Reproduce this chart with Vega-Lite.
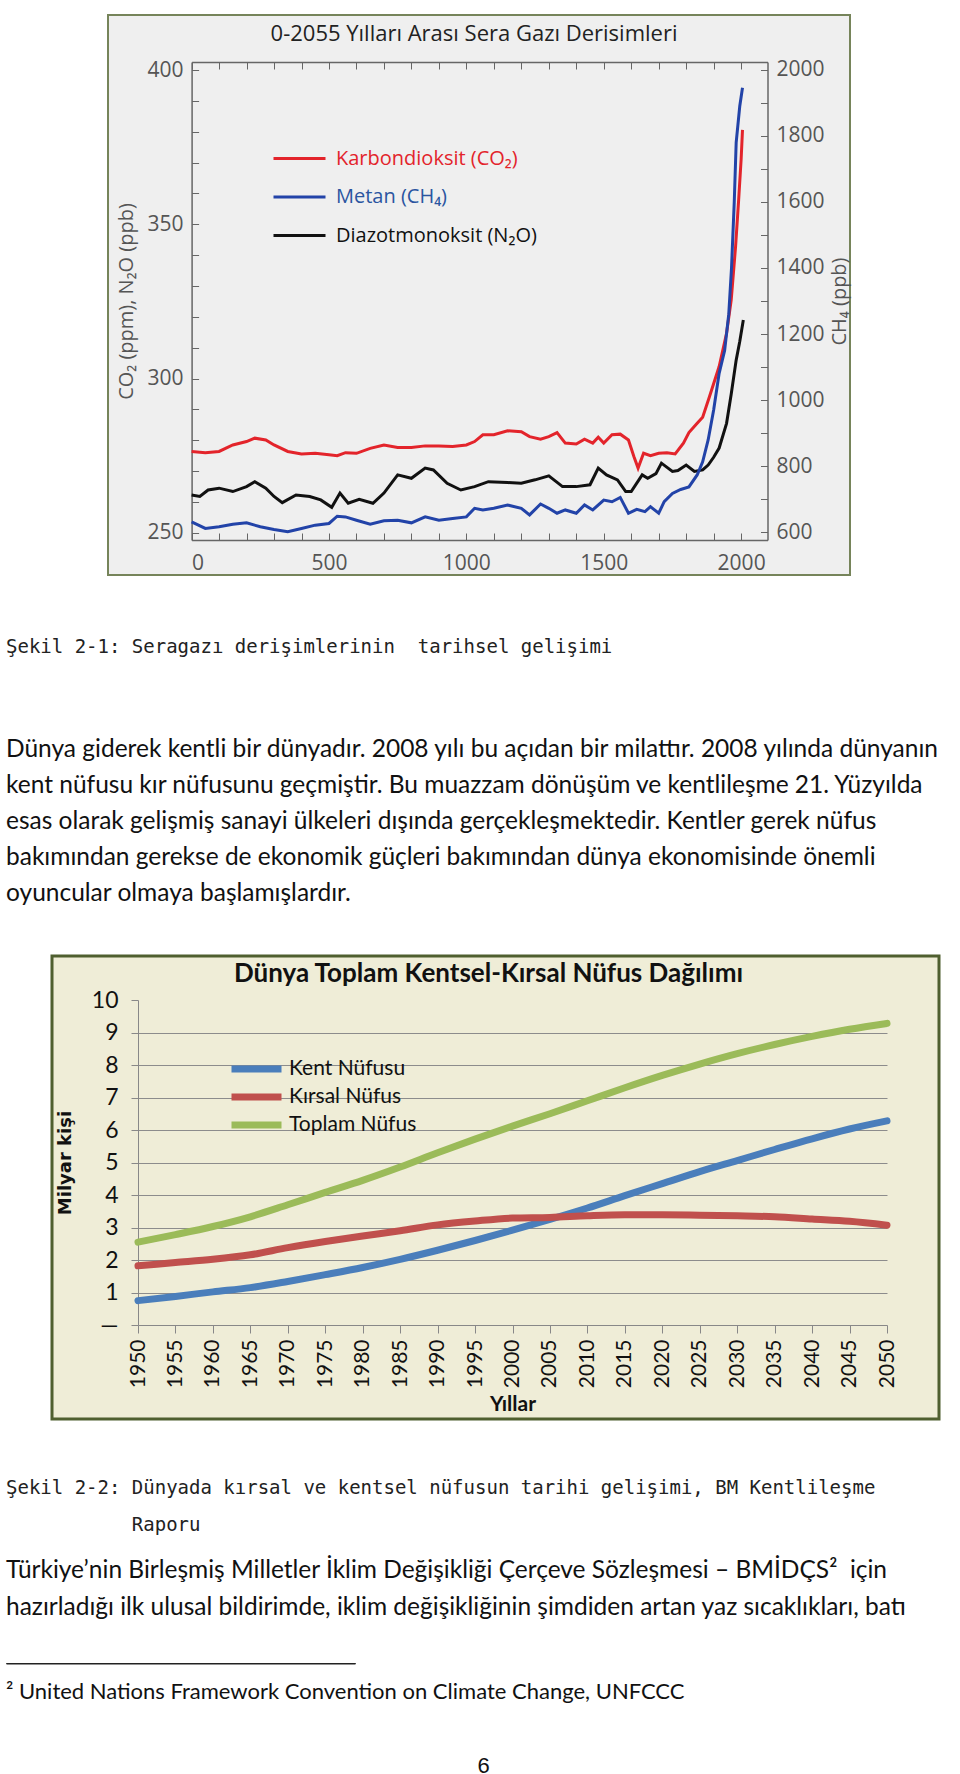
{
  "$schema": "https://vega.github.io/schema/vega-lite/v6.json",
  "background": "white",
  "padding": {"left": 5, "top": 14, "right": 0, "bottom": 0},
  "spacing": 0,
  "resolve": {"scale": {"color": "independent"}, "legend": {"color": "independent"}},
  "config": {"view": {"stroke": null}, "concat": {"spacing": 0}},
  "datasets": {
    "gas": [
      {"year": 0, "gas": "Karbondioksit (CO₂)", "value": 276.4}, {"year": 50, "gas": "Karbondioksit (CO₂)", "value": 276.0}, {"year": 100, "gas": "Karbondioksit (CO₂)", "value": 276.4}, {"year": 150, "gas": "Karbondioksit (CO₂)", "value": 278.5}, {"year": 200, "gas": "Karbondioksit (CO₂)", "value": 279.6}, {"year": 230, "gas": "Karbondioksit (CO₂)", "value": 280.7}, {"year": 270, "gas": "Karbondioksit (CO₂)", "value": 280.1}, {"year": 300, "gas": "Karbondioksit (CO₂)", "value": 278.5}, {"year": 350, "gas": "Karbondioksit (CO₂)", "value": 276.4}, {"year": 400, "gas": "Karbondioksit (CO₂)", "value": 275.6}, {"year": 450, "gas": "Karbondioksit (CO₂)", "value": 275.8}, {"year": 500, "gas": "Karbondioksit (CO₂)", "value": 275.3}, {"year": 530, "gas": "Karbondioksit (CO₂)", "value": 275.0}, {"year": 560, "gas": "Karbondioksit (CO₂)", "value": 276.0}, {"year": 600, "gas": "Karbondioksit (CO₂)", "value": 275.8}, {"year": 650, "gas": "Karbondioksit (CO₂)", "value": 277.4}, {"year": 700, "gas": "Karbondioksit (CO₂)", "value": 278.5}, {"year": 750, "gas": "Karbondioksit (CO₂)", "value": 277.7}, {"year": 800, "gas": "Karbondioksit (CO₂)", "value": 277.7}, {"year": 850, "gas": "Karbondioksit (CO₂)", "value": 278.2}, {"year": 900, "gas": "Karbondioksit (CO₂)", "value": 278.2}, {"year": 950, "gas": "Karbondioksit (CO₂)", "value": 278.0}, {"year": 1000, "gas": "Karbondioksit (CO₂)", "value": 278.5}, {"year": 1030, "gas": "Karbondioksit (CO₂)", "value": 279.6}, {"year": 1060, "gas": "Karbondioksit (CO₂)", "value": 281.8}, {"year": 1100, "gas": "Karbondioksit (CO₂)", "value": 281.8}, {"year": 1150, "gas": "Karbondioksit (CO₂)", "value": 283.1}, {"year": 1200, "gas": "Karbondioksit (CO₂)", "value": 282.8}, {"year": 1230, "gas": "Karbondioksit (CO₂)", "value": 281.2}, {"year": 1270, "gas": "Karbondioksit (CO₂)", "value": 280.4}, {"year": 1300, "gas": "Karbondioksit (CO₂)", "value": 281.2}, {"year": 1330, "gas": "Karbondioksit (CO₂)", "value": 282.5}, {"year": 1360, "gas": "Karbondioksit (CO₂)", "value": 279.1}, {"year": 1400, "gas": "Karbondioksit (CO₂)", "value": 278.8}, {"year": 1430, "gas": "Karbondioksit (CO₂)", "value": 280.4}, {"year": 1460, "gas": "Karbondioksit (CO₂)", "value": 279.1}, {"year": 1480, "gas": "Karbondioksit (CO₂)", "value": 281.0}, {"year": 1500, "gas": "Karbondioksit (CO₂)", "value": 279.1}, {"year": 1530, "gas": "Karbondioksit (CO₂)", "value": 281.8}, {"year": 1560, "gas": "Karbondioksit (CO₂)", "value": 282.0}, {"year": 1590, "gas": "Karbondioksit (CO₂)", "value": 280.1}, {"year": 1610, "gas": "Karbondioksit (CO₂)", "value": 274.7}, {"year": 1625, "gas": "Karbondioksit (CO₂)", "value": 271.0}, {"year": 1645, "gas": "Karbondioksit (CO₂)", "value": 275.8}, {"year": 1670, "gas": "Karbondioksit (CO₂)", "value": 275.0}, {"year": 1700, "gas": "Karbondioksit (CO₂)", "value": 275.8}, {"year": 1730, "gas": "Karbondioksit (CO₂)", "value": 276.0}, {"year": 1760, "gas": "Karbondioksit (CO₂)", "value": 275.6}, {"year": 1790, "gas": "Karbondioksit (CO₂)", "value": 279.1}, {"year": 1810, "gas": "Karbondioksit (CO₂)", "value": 282.5}, {"year": 1840, "gas": "Karbondioksit (CO₂)", "value": 285.5}, {"year": 1860, "gas": "Karbondioksit (CO₂)", "value": 287.5}, {"year": 1885, "gas": "Karbondioksit (CO₂)", "value": 294.2}, {"year": 1920, "gas": "Karbondioksit (CO₂)", "value": 303.9}, {"year": 1947, "gas": "Karbondioksit (CO₂)", "value": 314.7}, {"year": 1964, "gas": "Karbondioksit (CO₂)", "value": 325.5}, {"year": 1980, "gas": "Karbondioksit (CO₂)", "value": 343.0}, {"year": 1991, "gas": "Karbondioksit (CO₂)", "value": 357.9}, {"year": 2000, "gas": "Karbondioksit (CO₂)", "value": 371.0}, {"year": 2005, "gas": "Karbondioksit (CO₂)", "value": 380.6},
      {"year": 0, "gas": "Diazotmonoksit (N₂O)", "value": 262.3}, {"year": 30, "gas": "Diazotmonoksit (N₂O)", "value": 261.8}, {"year": 60, "gas": "Diazotmonoksit (N₂O)", "value": 263.9}, {"year": 100, "gas": "Diazotmonoksit (N₂O)", "value": 264.5}, {"year": 150, "gas": "Diazotmonoksit (N₂O)", "value": 263.4}, {"year": 200, "gas": "Diazotmonoksit (N₂O)", "value": 265.0}, {"year": 230, "gas": "Diazotmonoksit (N₂O)", "value": 266.6}, {"year": 270, "gas": "Diazotmonoksit (N₂O)", "value": 264.5}, {"year": 300, "gas": "Diazotmonoksit (N₂O)", "value": 261.8}, {"year": 330, "gas": "Diazotmonoksit (N₂O)", "value": 259.8}, {"year": 380, "gas": "Diazotmonoksit (N₂O)", "value": 262.3}, {"year": 430, "gas": "Diazotmonoksit (N₂O)", "value": 261.8}, {"year": 470, "gas": "Diazotmonoksit (N₂O)", "value": 260.7}, {"year": 510, "gas": "Diazotmonoksit (N₂O)", "value": 258.3}, {"year": 540, "gas": "Diazotmonoksit (N₂O)", "value": 262.9}, {"year": 570, "gas": "Diazotmonoksit (N₂O)", "value": 259.6}, {"year": 610, "gas": "Diazotmonoksit (N₂O)", "value": 260.9}, {"year": 660, "gas": "Diazotmonoksit (N₂O)", "value": 259.6}, {"year": 700, "gas": "Diazotmonoksit (N₂O)", "value": 262.9}, {"year": 750, "gas": "Diazotmonoksit (N₂O)", "value": 268.8}, {"year": 800, "gas": "Diazotmonoksit (N₂O)", "value": 267.7}, {"year": 850, "gas": "Diazotmonoksit (N₂O)", "value": 271.0}, {"year": 880, "gas": "Diazotmonoksit (N₂O)", "value": 270.4}, {"year": 930, "gas": "Diazotmonoksit (N₂O)", "value": 266.1}, {"year": 980, "gas": "Diazotmonoksit (N₂O)", "value": 263.9}, {"year": 1030, "gas": "Diazotmonoksit (N₂O)", "value": 265.0}, {"year": 1080, "gas": "Diazotmonoksit (N₂O)", "value": 266.6}, {"year": 1150, "gas": "Diazotmonoksit (N₂O)", "value": 266.3}, {"year": 1200, "gas": "Diazotmonoksit (N₂O)", "value": 266.1}, {"year": 1250, "gas": "Diazotmonoksit (N₂O)", "value": 267.2}, {"year": 1300, "gas": "Diazotmonoksit (N₂O)", "value": 268.5}, {"year": 1350, "gas": "Diazotmonoksit (N₂O)", "value": 265.0}, {"year": 1400, "gas": "Diazotmonoksit (N₂O)", "value": 265.0}, {"year": 1450, "gas": "Diazotmonoksit (N₂O)", "value": 265.6}, {"year": 1480, "gas": "Diazotmonoksit (N₂O)", "value": 271.0}, {"year": 1510, "gas": "Diazotmonoksit (N₂O)", "value": 268.8}, {"year": 1550, "gas": "Diazotmonoksit (N₂O)", "value": 267.2}, {"year": 1580, "gas": "Diazotmonoksit (N₂O)", "value": 263.4}, {"year": 1600, "gas": "Diazotmonoksit (N₂O)", "value": 263.4}, {"year": 1640, "gas": "Diazotmonoksit (N₂O)", "value": 268.8}, {"year": 1660, "gas": "Diazotmonoksit (N₂O)", "value": 267.7}, {"year": 1690, "gas": "Diazotmonoksit (N₂O)", "value": 269.2}, {"year": 1710, "gas": "Diazotmonoksit (N₂O)", "value": 272.6}, {"year": 1750, "gas": "Diazotmonoksit (N₂O)", "value": 269.9}, {"year": 1770, "gas": "Diazotmonoksit (N₂O)", "value": 270.2}, {"year": 1800, "gas": "Diazotmonoksit (N₂O)", "value": 272.0}, {"year": 1830, "gas": "Diazotmonoksit (N₂O)", "value": 269.9}, {"year": 1860, "gas": "Diazotmonoksit (N₂O)", "value": 270.4}, {"year": 1880, "gas": "Diazotmonoksit (N₂O)", "value": 272.0}, {"year": 1900, "gas": "Diazotmonoksit (N₂O)", "value": 274.5}, {"year": 1920, "gas": "Diazotmonoksit (N₂O)", "value": 277.5}, {"year": 1947, "gas": "Diazotmonoksit (N₂O)", "value": 285.5}, {"year": 1964, "gas": "Diazotmonoksit (N₂O)", "value": 295.0}, {"year": 1982, "gas": "Diazotmonoksit (N₂O)", "value": 306.0}, {"year": 1995, "gas": "Diazotmonoksit (N₂O)", "value": 312.0}, {"year": 2008, "gas": "Diazotmonoksit (N₂O)", "value": 319.0}
    ],
    "ch4": [
      {"year": 0, "gas": "Metan (CH₄)", "value": 631}, {"year": 50, "gas": "Metan (CH₄)", "value": 611}, {"year": 100, "gas": "Metan (CH₄)", "value": 616}, {"year": 150, "gas": "Metan (CH₄)", "value": 624}, {"year": 200, "gas": "Metan (CH₄)", "value": 628}, {"year": 250, "gas": "Metan (CH₄)", "value": 616}, {"year": 300, "gas": "Metan (CH₄)", "value": 608}, {"year": 350, "gas": "Metan (CH₄)", "value": 601}, {"year": 400, "gas": "Metan (CH₄)", "value": 611}, {"year": 450, "gas": "Metan (CH₄)", "value": 621}, {"year": 500, "gas": "Metan (CH₄)", "value": 626}, {"year": 530, "gas": "Metan (CH₄)", "value": 648}, {"year": 560, "gas": "Metan (CH₄)", "value": 646}, {"year": 600, "gas": "Metan (CH₄)", "value": 636}, {"year": 650, "gas": "Metan (CH₄)", "value": 624}, {"year": 700, "gas": "Metan (CH₄)", "value": 634}, {"year": 750, "gas": "Metan (CH₄)", "value": 636}, {"year": 800, "gas": "Metan (CH₄)", "value": 628}, {"year": 850, "gas": "Metan (CH₄)", "value": 646}, {"year": 900, "gas": "Metan (CH₄)", "value": 636}, {"year": 950, "gas": "Metan (CH₄)", "value": 641}, {"year": 1000, "gas": "Metan (CH₄)", "value": 646}, {"year": 1030, "gas": "Metan (CH₄)", "value": 672}, {"year": 1060, "gas": "Metan (CH₄)", "value": 667}, {"year": 1100, "gas": "Metan (CH₄)", "value": 672}, {"year": 1150, "gas": "Metan (CH₄)", "value": 682}, {"year": 1200, "gas": "Metan (CH₄)", "value": 672}, {"year": 1230, "gas": "Metan (CH₄)", "value": 652}, {"year": 1270, "gas": "Metan (CH₄)", "value": 685}, {"year": 1300, "gas": "Metan (CH₄)", "value": 672}, {"year": 1330, "gas": "Metan (CH₄)", "value": 657}, {"year": 1360, "gas": "Metan (CH₄)", "value": 667}, {"year": 1400, "gas": "Metan (CH₄)", "value": 657}, {"year": 1430, "gas": "Metan (CH₄)", "value": 682}, {"year": 1460, "gas": "Metan (CH₄)", "value": 667}, {"year": 1500, "gas": "Metan (CH₄)", "value": 697}, {"year": 1530, "gas": "Metan (CH₄)", "value": 692}, {"year": 1560, "gas": "Metan (CH₄)", "value": 705}, {"year": 1590, "gas": "Metan (CH₄)", "value": 657}, {"year": 1620, "gas": "Metan (CH₄)", "value": 669}, {"year": 1650, "gas": "Metan (CH₄)", "value": 662}, {"year": 1670, "gas": "Metan (CH₄)", "value": 677}, {"year": 1700, "gas": "Metan (CH₄)", "value": 657}, {"year": 1720, "gas": "Metan (CH₄)", "value": 692}, {"year": 1750, "gas": "Metan (CH₄)", "value": 717}, {"year": 1780, "gas": "Metan (CH₄)", "value": 729}, {"year": 1810, "gas": "Metan (CH₄)", "value": 737}, {"year": 1840, "gas": "Metan (CH₄)", "value": 773}, {"year": 1860, "gas": "Metan (CH₄)", "value": 813}, {"year": 1880, "gas": "Metan (CH₄)", "value": 879}, {"year": 1900, "gas": "Metan (CH₄)", "value": 970}, {"year": 1920, "gas": "Metan (CH₄)", "value": 1081}, {"year": 1940, "gas": "Metan (CH₄)", "value": 1150}, {"year": 1955, "gas": "Metan (CH₄)", "value": 1260}, {"year": 1965, "gas": "Metan (CH₄)", "value": 1400}, {"year": 1975, "gas": "Metan (CH₄)", "value": 1600}, {"year": 1982, "gas": "Metan (CH₄)", "value": 1780}, {"year": 1995, "gas": "Metan (CH₄)", "value": 1890}, {"year": 2005, "gas": "Metan (CH₄)", "value": 1946}
    ],
    "pop": [
      {"year": 1950, "s": "Kent Nüfusu", "v": 0.75}, {"year": 1955, "s": "Kent Nüfusu", "v": 0.88}, {"year": 1960, "s": "Kent Nüfusu", "v": 1.02}, {"year": 1965, "s": "Kent Nüfusu", "v": 1.15}, {"year": 1970, "s": "Kent Nüfusu", "v": 1.34}, {"year": 1975, "s": "Kent Nüfusu", "v": 1.55}, {"year": 1980, "s": "Kent Nüfusu", "v": 1.77}, {"year": 1985, "s": "Kent Nüfusu", "v": 2.02}, {"year": 1990, "s": "Kent Nüfusu", "v": 2.3}, {"year": 1995, "s": "Kent Nüfusu", "v": 2.6}, {"year": 2000, "s": "Kent Nüfusu", "v": 2.92}, {"year": 2005, "s": "Kent Nüfusu", "v": 3.25}, {"year": 2010, "s": "Kent Nüfusu", "v": 3.6}, {"year": 2015, "s": "Kent Nüfusu", "v": 3.98}, {"year": 2020, "s": "Kent Nüfusu", "v": 4.35}, {"year": 2025, "s": "Kent Nüfusu", "v": 4.72}, {"year": 2030, "s": "Kent Nüfusu", "v": 5.06}, {"year": 2035, "s": "Kent Nüfusu", "v": 5.4}, {"year": 2040, "s": "Kent Nüfusu", "v": 5.73}, {"year": 2045, "s": "Kent Nüfusu", "v": 6.03}, {"year": 2050, "s": "Kent Nüfusu", "v": 6.28},
      {"year": 1950, "s": "Kırsal Nüfus", "v": 1.82}, {"year": 1955, "s": "Kırsal Nüfus", "v": 1.92}, {"year": 1960, "s": "Kırsal Nüfus", "v": 2.02}, {"year": 1965, "s": "Kırsal Nüfus", "v": 2.16}, {"year": 1970, "s": "Kırsal Nüfus", "v": 2.38}, {"year": 1975, "s": "Kırsal Nüfus", "v": 2.57}, {"year": 1980, "s": "Kırsal Nüfus", "v": 2.74}, {"year": 1985, "s": "Kırsal Nüfus", "v": 2.9}, {"year": 1990, "s": "Kırsal Nüfus", "v": 3.08}, {"year": 1995, "s": "Kırsal Nüfus", "v": 3.2}, {"year": 2000, "s": "Kırsal Nüfus", "v": 3.29}, {"year": 2005, "s": "Kırsal Nüfus", "v": 3.31}, {"year": 2010, "s": "Kırsal Nüfus", "v": 3.36}, {"year": 2015, "s": "Kırsal Nüfus", "v": 3.39}, {"year": 2020, "s": "Kırsal Nüfus", "v": 3.39}, {"year": 2025, "s": "Kırsal Nüfus", "v": 3.38}, {"year": 2030, "s": "Kırsal Nüfus", "v": 3.36}, {"year": 2035, "s": "Kırsal Nüfus", "v": 3.33}, {"year": 2040, "s": "Kırsal Nüfus", "v": 3.26}, {"year": 2045, "s": "Kırsal Nüfus", "v": 3.19}, {"year": 2050, "s": "Kırsal Nüfus", "v": 3.07},
      {"year": 1950, "s": "Toplam Nüfus", "v": 2.55}, {"year": 1955, "s": "Toplam Nüfus", "v": 2.78}, {"year": 1960, "s": "Toplam Nüfus", "v": 3.03}, {"year": 1965, "s": "Toplam Nüfus", "v": 3.33}, {"year": 1970, "s": "Toplam Nüfus", "v": 3.7}, {"year": 1975, "s": "Toplam Nüfus", "v": 4.08}, {"year": 1980, "s": "Toplam Nüfus", "v": 4.45}, {"year": 1985, "s": "Toplam Nüfus", "v": 4.86}, {"year": 1990, "s": "Toplam Nüfus", "v": 5.3}, {"year": 1995, "s": "Toplam Nüfus", "v": 5.72}, {"year": 2000, "s": "Toplam Nüfus", "v": 6.12}, {"year": 2005, "s": "Toplam Nüfus", "v": 6.5}, {"year": 2010, "s": "Toplam Nüfus", "v": 6.9}, {"year": 2015, "s": "Toplam Nüfus", "v": 7.3}, {"year": 2020, "s": "Toplam Nüfus", "v": 7.68}, {"year": 2025, "s": "Toplam Nüfus", "v": 8.03}, {"year": 2030, "s": "Toplam Nüfus", "v": 8.35}, {"year": 2035, "s": "Toplam Nüfus", "v": 8.63}, {"year": 2040, "s": "Toplam Nüfus", "v": 8.88}, {"year": 2045, "s": "Toplam Nüfus", "v": 9.1}, {"year": 2050, "s": "Toplam Nüfus", "v": 9.28}
    ]
  },
  "vconcat": [
    {
      "hconcat": [
        {"width": 101, "height": 1, "data": {"values": []}, "mark": "point"},
        {
          "width": 742, "height": 560,
          "view": {"fill": "#efefef", "stroke": "#76845a", "strokeWidth": 2},
          "title": {"text": "0-2055 Yılları Arası Sera Gazı Derisimleri", "offset": -31, "frame": "group", "anchor": "middle", "dx": -5, "font": "Open Sans", "fontSize": 22, "fontWeight": "normal", "color": "#222"},
          "layer": [
            {
              "data": {"name": "gas"},
              "mark": {"type": "line", "strokeWidth": 3},
              "encoding": {
                "x": {"field": "year", "type": "quantitative",
                  "scale": {"domain": [0, 2096], "range": [83.6, 659.5], "nice": false, "zero": false},
                  "axis": {"orient": "bottom", "offset": -35, "values": [0,100,200,300,400,500,600,700,800,900,1000,1100,1200,1300,1400,1500,1600,1700,1800,1900,2000], "format": "d", "labelExpr": "datum.value % 500 === 0 ? datum.label : ''", "tickSize": -7, "tickColor": "#666", "domainColor": "#666", "domainWidth": 1.5, "labelPadding": 19, "labelFont": "Open Sans", "labelFontSize": 21, "labelColor": "#555", "title": null, "grid": false}},
                "y": {"field": "value", "type": "quantitative",
                  "scale": {"domain": [247.7, 402.6], "range": [525, 47], "nice": false, "zero": false},
                  "axis": {"orient": "left", "offset": -83.6, "values": [250,260,270,280,290,300,310,320,330,340,350,360,370,380,390,400], "labelExpr": "datum.value % 50 === 0 ? datum.label : ''", "tickSize": -7, "tickColor": "#666", "domainColor": "#666", "domainWidth": 1.5, "labelPadding": 15.6, "labelFont": "Open Sans", "labelFontSize": 21, "labelColor": "#555", "grid": false, "title": "CO₂ (ppm), N₂O (ppb)", "titleFont": "Open Sans", "titleFontSize": 20, "titleFontWeight": "normal", "titleColor": "#555", "titlePadding": 10}},
                "color": {"field": "gas", "type": "nominal",
                  "scale": {"domain": ["Karbondioksit (CO₂)", "Metan (CH₄)", "Diazotmonoksit (N₂O)"], "range": ["#e3242b", "#2243a8", "#111111"]},
                  "legend": {"orient": "none", "legendX": 292, "legendY": 129, "title": null, "padding": 0, "symbolType": "M-3,0H1", "symbolSize": 676, "symbolStrokeWidth": 3, "labelFont": "Open Sans", "labelFontSize": 20, "labelOffset": 9, "labelLimit": 400, "rowPadding": 13.5,
                    "encode": {"labels": {"update": {"fill": {"signal": "datum.value === 'Karbondioksit (CO₂)' ? '#e3242b' : datum.value === 'Metan (CH₄)' ? '#2a55a0' : '#111111'"}}}}}}
              }
            },
            {
              "data": {"name": "ch4"},
              "mark": {"type": "line", "strokeWidth": 3},
              "encoding": {
                "x": {"field": "year", "type": "quantitative",
                  "axis": {"orient": "top", "offset": -47, "values": [0,100,200,300,400,500,600,700,800,900,1000,1100,1200,1300,1400,1500,1600,1700,1800,1900,2000], "labels": false, "tickSize": -7, "tickColor": "#666", "domainColor": "#666", "domainWidth": 1.5, "title": null, "grid": false}},
                "y": {"field": "value", "type": "quantitative",
                  "scale": {"domain": [576, 2024], "range": [525, 47], "nice": false, "zero": false},
                  "axis": {"orient": "right", "offset": -82.5, "values": [600,700,800,900,1000,1100,1200,1300,1400,1500,1600,1700,1800,1900,2000], "labelExpr": "datum.value % 200 === 0 ? datum.label : ''", "format": "d", "tickSize": -7, "tickColor": "#666", "domainColor": "#666", "domainWidth": 1.5, "labelPadding": 15.5, "labelFont": "Open Sans", "labelFontSize": 21, "labelColor": "#555", "grid": false, "title": "CH₄ (ppb)", "titleAngle": 270, "titleFont": "Open Sans", "titleFontSize": 20, "titleFontWeight": "normal", "titleColor": "#555", "titlePadding": 25}},
                "color": {"field": "gas", "type": "nominal"}
              }
            }
          ],
          "resolve": {"scale": {"y": "independent"}, "axis": {"x": "independent", "y": "independent"}}
        }
      ]
    },
    {
      "width": 955, "height": 142,
      "data": {"values": [{"t": "Şekil 2-1: Seragazı derişimlerinin \u00a0tarihsel gelişimi"}]},
      "mark": {"type": "text", "align": "left", "baseline": "middle", "font": "DejaVu Sans Mono", "fontSize": 19, "fill": "#222"},
      "encoding": {"text": {"field": "t"}, "x": {"value": 0}}
    },
    {
      "width": 955, "height": 208,
      "data": {"values": [
        {"line": 1, "t": "Dünya giderek kentli bir dünyadır. 2008 yılı bu açıdan bir milattır. 2008 yılında dünyanın"},
        {"line": 2, "t": "kent nüfusu kır nüfusunu geçmiştir. Bu muazzam dönüşüm ve kentlileşme 21. Yüzyılda"},
        {"line": 3, "t": "esas olarak gelişmiş sanayi ülkeleri dışında gerçekleşmektedir. Kentler gerek nüfus"},
        {"line": 4, "t": "bakımından gerekse de ekonomik güçleri bakımından dünya ekonomisinde önemli"},
        {"line": 5, "t": "oyuncular olmaya başlamışlardır."}
      ]},
      "mark": {"type": "text", "align": "left", "baseline": "middle", "font": "Lato", "fontSize": 24.5, "fill": "#111"},
      "encoding": {"text": {"field": "t"}, "x": {"value": 0}, "y": {"field": "line", "type": "ordinal", "scale": {"type": "point", "padding": 0.889}, "axis": null}}
    },
    {"width": 1, "height": 27.5, "data": {"values": []}, "mark": "point"},
    {
      "hconcat": [
        {"width": 43.5, "height": 1, "data": {"values": []}, "mark": "point"},
        {
          "width": 887, "height": 463,
          "view": {"fill": "#efedd7", "stroke": "#4f5f2f", "strokeWidth": 3},
          "title": {"text": "Dünya Toplam Kentsel-Kırsal Nüfus Dağılımı", "offset": -31, "frame": "group", "anchor": "middle", "dx": -7, "font": "Lato", "fontSize": 26, "fontWeight": "bold", "color": "#111"},
          "data": {"name": "pop"},
          "mark": {"type": "line", "strokeWidth": 7, "interpolate": "monotone", "strokeCap": "round"},
          "encoding": {
            "x": {"field": "year", "type": "quantitative",
              "scale": {"domain": [1950, 2050], "range": [86, 835], "nice": false, "zero": false},
              "axis": {"offset": -94, "values": [1950,1955,1960,1965,1970,1975,1980,1985,1990,1995,2000,2005,2010,2015,2020,2025,2030,2035,2040,2045,2050], "format": "d", "labelAngle": 270, "labelFont": "Lato", "labelFontSize": 21, "labelColor": "#111", "tickSize": 8, "tickColor": "#888", "domainColor": "#888", "labelPadding": 6, "title": "Yıllar", "titleFont": "Lato", "titleFontSize": 21, "titleFontWeight": "bold", "titleColor": "#111", "titlePadding": 6, "grid": false}},
            "y": {"field": "v", "type": "quantitative",
              "scale": {"domain": [0, 10], "range": [369, 44], "nice": false, "zero": false},
              "axis": {"offset": -86, "values": [0,1,2,3,4,5,6,7,8,9,10], "labelExpr": "datum.value === 0 ? '—' : datum.label", "grid": true, "gridColor": "#8c8c8c", "gridOpacity": {"condition": {"test": "datum.value === 0 || datum.value === 10", "value": 0}, "value": 1}, "tickSize": 7, "tickColor": "#888", "domainColor": "#888", "labelPadding": 13, "labelFont": "Lato", "labelFontSize": 23, "labelColor": "#111", "title": "Milyar kişi", "titleFont": "DejaVu Sans", "titleFontSize": 18, "titleFontWeight": "bold", "titleColor": "#111", "titlePadding": 17}},
            "color": {"field": "s", "type": "nominal",
              "scale": {"domain": ["Kent Nüfusu", "Kırsal Nüfus", "Toplam Nüfus"], "range": ["#4a7ebb", "#c0504d", "#9bbb59"]},
              "legend": {"orient": "none", "legendX": 252, "legendY": 99.5, "title": null, "padding": 0, "symbolType": "M-4,0H1", "symbolSize": 400, "symbolStrokeWidth": 7, "labelFont": "Lato", "labelFontSize": 21, "labelColor": "#111", "labelOffset": 4, "labelLimit": 400, "rowPadding": -1.5}}
          }
        }
      ]
    },
    {"width": 1, "height": 47.5, "data": {"values": []}, "mark": "point"},
    {
      "width": 955, "height": 75,
      "data": {"values": [
        {"line": 1, "t": "Şekil 2-2: Dünyada kırsal ve kentsel nüfusun tarihi gelişimi, BM Kentlileşme"},
        {"line": 2, "t": "\u200b\u00a0\u00a0\u00a0\u00a0\u00a0\u00a0\u00a0\u00a0\u00a0\u00a0\u00a0Raporu"}
      ]},
      "mark": {"type": "text", "align": "left", "baseline": "middle", "font": "DejaVu Sans Mono", "fontSize": 19, "fill": "#222"},
      "encoding": {"text": {"field": "t"}, "x": {"value": 0}, "y": {"field": "line", "type": "ordinal", "scale": {"type": "point", "padding": 0.514}, "axis": null}}
    },
    {
      "width": 955, "height": 91,
      "data": {"values": [
        {"line": 1, "t": "Türkiye’nin Birleşmiş Milletler İklim Değişikliği Çerçeve Sözleşmesi – BMİDÇS² \u00a0için"},
        {"line": 2, "t": "hazırladığı ilk ulusal bildirimde, iklim değişikliğinin şimdiden artan yaz sıcaklıkları, batı"}
      ]},
      "mark": {"type": "text", "align": "left", "baseline": "middle", "font": "Lato", "fontSize": 24.5, "fill": "#111"},
      "encoding": {"text": {"field": "t"}, "x": {"value": 0}, "y": {"field": "line", "type": "ordinal", "scale": {"type": "point", "padding": 0.73}, "axis": null}}
    },
    {"width": 1, "height": 27, "data": {"values": []}, "mark": "point"},
    {"width": 349, "height": 0.5, "view": {"stroke": "#222", "strokeWidth": 1}, "data": {"values": []}, "mark": "point"},
    {
      "width": 955, "height": 55,
      "data": {"values": [{"t": "² United Nations Framework Convention on Climate Change, UNFCCC"}]},
      "mark": {"type": "text", "align": "left", "baseline": "middle", "font": "Lato", "fontSize": 22, "fill": "#111"},
      "encoding": {"text": {"field": "t"}, "x": {"value": 0}}
    },
    {
      "width": 955, "height": 93,
      "data": {"values": [{"t": "6"}]},
      "mark": {"type": "text", "align": "center", "baseline": "middle", "font": "Liberation Sans", "fontSize": 22, "fill": "#111"},
      "encoding": {"text": {"field": "t"}}
    }
  ]
}
